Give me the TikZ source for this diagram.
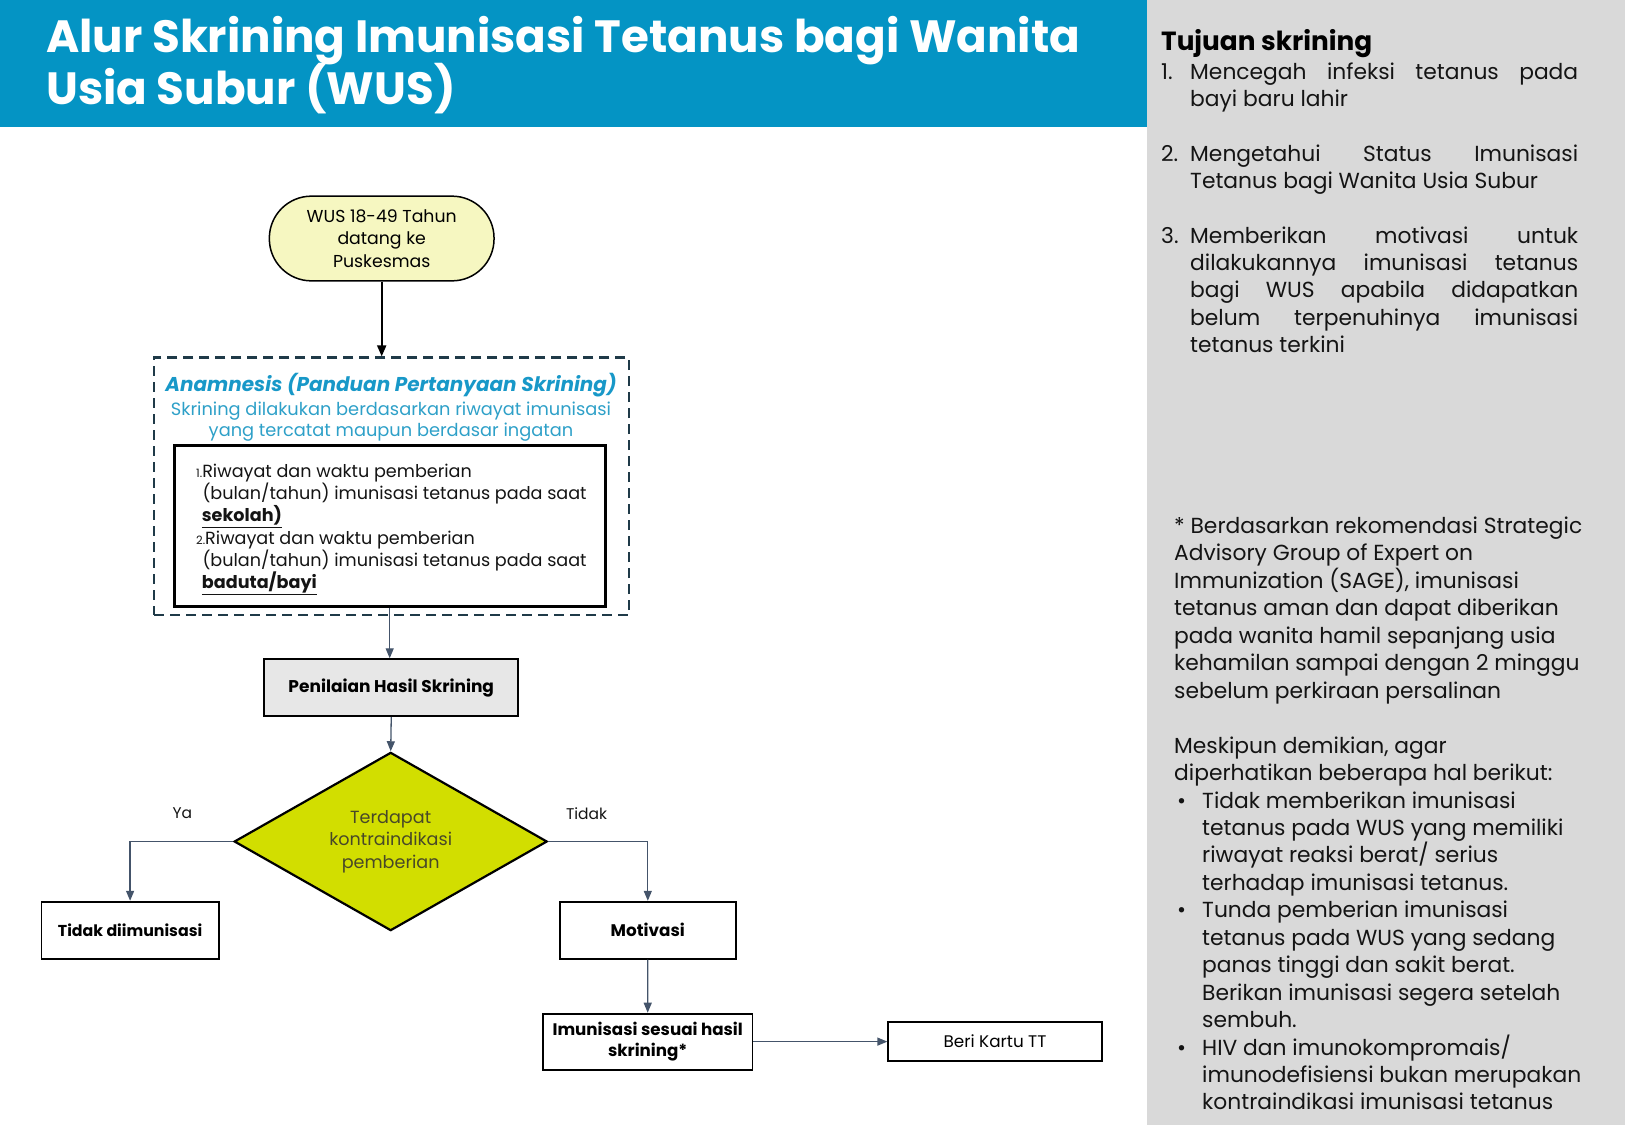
\documentclass[tikz,border=0pt]{standalone}
\usepackage{fontspec}
\setmainfont{Poppins}
\usetikzlibrary{arrows.meta,shapes.geometric}
\definecolor{barblue}{RGB}{4,148,196}
\definecolor{panelgray}{RGB}{217,217,217}
\definecolor{anablue}{RGB}{24,152,200}
\definecolor{subblue}{RGB}{46,160,200}
\definecolor{startfill}{RGB}{246,247,193}
\definecolor{penfill}{RGB}{231,231,231}
\definecolor{diafill}{RGB}{210,222,0}
\definecolor{diatext}{RGB}{72,72,40}
\definecolor{connc}{RGB}{68,84,106}
\definecolor{dashc}{RGB}{31,58,72}
\definecolor{bodytext}{RGB}{20,20,20}
\newcommand{\fs}[2]{\fontsize{#1}{#2}\selectfont}
\begin{document}
\begin{tikzpicture}[x=1pt,y=-1pt,
  titletext/.style={anchor=base west,inner sep=0,text=white,font=\bfseries\fs{45.2}{45}},
  line/.style={anchor=base west,inner sep=0,text=bodytext,font=\fs{17.6}{20}},
  rline/.style={anchor=base west,inner sep=0,text=bodytext,font=\fs{21.8}{26}},
  flowbox/.style={draw,line width=1.8pt,inner sep=0,align=center,text=black},
  conn/.style={draw=connc,line width=1.3pt,-{Triangle[length=10pt,width=8pt]}},
  lbl/.style={inner sep=0,font=\fs{15.5}{18},text=bodytext}]
\useasboundingbox (0,0) rectangle (1625,1125);
\fill[panelgray] (1147,0) rectangle (1625,1125);
\fill[barblue] (0,0) rectangle (1147,127);
\node[titletext] (title1) at (46,52) {Alur Skrining Imunisasi Tetanus bagi Wanita};
\node[titletext] (title2) at (46,104) {Usia Subur (WUS)};

% flowchart
\node[flowbox,fill=startfill,line width=1.5pt,rounded corners=42pt,minimum width=224.7pt,minimum height=84.7pt,font=\fs{17.3}{22.3}] (start) at (381.7,238.5) {WUS 18-49 Tahun\\datang ke\\Puskesmas};
\node[draw=dashc,dash pattern=on 10pt off 6pt,line width=2.7pt,minimum width=475pt,minimum height=257.3pt,inner sep=0] (dash) at (391.5,486.4) {};
\node[anchor=base,inner sep=0,text=anablue,font=\bfseries\itshape\fs{20}{20}] (ana) at (391,391.7) {Anamnesis (Panduan Pertanyaan Skrining)};
\node[anchor=base,inner sep=0,text=subblue,font=\fs{17.8}{20}] (sub1) at (391,415) {Skrining dilakukan berdasarkan riwayat imunisasi};
\node[anchor=base,inner sep=0,text=subblue,font=\fs{17.8}{20}] (sub2) at (391,436.7) {yang tercatat maupun berdasar ingatan};
\node[draw,line width=3pt,minimum width=430.7pt,minimum height=160.3pt,inner sep=0] (inner) at (389.7,525.9) {};
\node[line] (q1a) at (196,477.3) {{\fs{11.5}{11}1.}Riwayat dan waktu pemberian};
\node[line] (q1b) at (202.3,499) {(bulan/tahun) imunisasi tetanus pada saat};
\node[line] (q1c) at (201.7,521.7) {\underline{\textbf{sekolah)}}};
\node[line] (q2a) at (196,544) {{\fs{11.5}{11}2.}Riwayat dan waktu pemberian};
\node[line] (q2b) at (202.3,566.7) {(bulan/tahun) imunisasi tetanus pada saat};
\node[line] (q2c) at (201.7,588.3) {\underline{\textbf{baduta/bayi}}};

\node[flowbox,fill=penfill,minimum width=254pt,minimum height=57pt,font=\bfseries\fs{17}{20}] (pen) at (391.25,687.7) {Penilaian Hasil Skrining};
\node[diamond,draw,line width=2.2pt,fill=diafill,aspect=1.76,minimum width=313pt,minimum height=178.3pt,inner sep=0,align=center,text=diatext,font=\fs{17.6}{22.5}] (dia) at (390.7,841.5) {Terdapat\\kontraindikasi\\pemberian};
\node[lbl] (ya) at (182.4,813.6) {Ya};
\node[lbl] (tidak) at (586.6,813.6) {Tidak};
\node[flowbox,minimum width=177.2pt,minimum height=57pt,font=\bfseries\fs{15.8}{19}] (nogo) at (130.1,930.2) {Tidak diimunisasi};
\node[flowbox,minimum width=176.2pt,minimum height=57pt,font=\bfseries\fs{16.8}{20}] (motiv) at (647.8,930.2) {Motivasi};
\node[flowbox,minimum width=209.4pt,minimum height=56pt,font=\bfseries\fs{16.7}{21.6}] (imun) at (647.7,1041.6) {Imunisasi sesuai hasil\\skrining*};
\node[flowbox,minimum width=213.5pt,minimum height=39.4pt,font=\fs{16.8}{20}] (beri) at (995,1041.6) {Beri Kartu TT};

\draw[line width=1.8pt,-{Triangle[length=11pt,width=9pt]}] (start.south) -- (start.south |- dash.north);
\draw[conn] (inner.south) -- (inner.south |- pen.north);
\draw[conn] (pen.south) -- (dia.north);
\draw[conn] (dia.west) -| (nogo.north);
\draw[conn] (dia.east) -| (motiv.north);
\draw[conn] (motiv.south) -- (imun.north);
\draw[conn] (imun.east) -- (beri.west);

% right panel
\node[anchor=base west,inner sep=0,text=black,font=\bfseries\fs{26.3}{28}] (tuj) at (1161,50) {Tujuan skrining};
\node[rline] (n1) at (1161,79) {1.};
\node[rline] (t1a) at (1190,79) {\makebox[388pt][s]{Mencegah infeksi tetanus pada}};
\node[rline] (t1b) at (1190,106) {bayi baru lahir};
\node[rline] (n2) at (1161,161.7) {2.};
\node[rline] (t2a) at (1190,161.7) {\makebox[388pt][s]{Mengetahui Status Imunisasi}};
\node[rline] (t2b) at (1190,188.3) {Tetanus bagi Wanita Usia Subur};
\node[rline] (n3) at (1161,243.3) {3.};
\node[rline] (t3a) at (1190,243.3) {\makebox[388pt][s]{Memberikan motivasi untuk}};
\node[rline] (t3b) at (1190,270.3) {\makebox[388pt][s]{dilakukannya imunisasi tetanus}};
\node[rline] (t3c) at (1190,297.7) {\makebox[388pt][s]{bagi WUS apabila didapatkan}};
\node[rline] (t3d) at (1190,325.5) {\makebox[388pt][s]{belum terpenuhinya imunisasi}};
\node[rline] (t3e) at (1190,352.7) {tetanus terkini};

\node[rline] (b1) at (1174,533.5) {* Berdasarkan rekomendasi Strategic};
\node[rline] (b2) at (1174,560.95) {Advisory Group of Expert on};
\node[rline] (b3) at (1174,588.4) {Immunization (SAGE), imunisasi};
\node[rline] (b4) at (1174,615.85) {tetanus aman dan dapat diberikan};
\node[rline] (b5) at (1174,643.3) {pada wanita hamil sepanjang usia};
\node[rline] (b6) at (1174,670.75) {kehamilan sampai dengan 2 minggu};
\node[rline] (b7) at (1174,698.2) {sebelum perkiraan persalinan};
\node[rline] (m1) at (1174,753.1) {Meskipun demikian, agar};
\node[rline] (m2) at (1174,780.55) {diperhatikan beberapa hal berikut:};
\node[rline] (d1) at (1177,808.0) {•};
\node[rline] (c1) at (1202,808.0) {Tidak memberikan imunisasi};
\node[rline] (c2) at (1202,835.45) {tetanus pada WUS yang memiliki};
\node[rline] (c3) at (1202,862.9) {riwayat reaksi berat/ serius};
\node[rline] (c4) at (1202,890.35) {terhadap imunisasi tetanus.};
\node[rline] (d2) at (1177,917.8) {•};
\node[rline] (c5) at (1202,917.8) {Tunda pemberian imunisasi};
\node[rline] (c6) at (1202,945.25) {tetanus pada WUS yang sedang};
\node[rline] (c7) at (1202,972.7) {panas tinggi dan sakit berat.};
\node[rline] (c8) at (1202,1000.15) {Berikan imunisasi segera setelah};
\node[rline] (c9) at (1202,1027.6) {sembuh.};
\node[rline] (d3) at (1177,1055.05) {•};
\node[rline] (c10) at (1202,1055.05) {HIV dan imunokompromais/};
\node[rline] (c11) at (1202,1082.5) {imunodefisiensi bukan merupakan};
\node[rline] (c12) at (1202,1109.95) {kontraindikasi imunisasi tetanus};
\end{tikzpicture}
\end{document}
